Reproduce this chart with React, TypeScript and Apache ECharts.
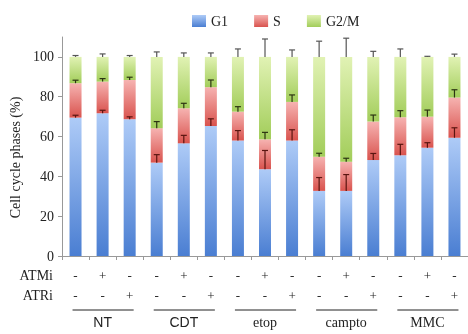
import React, { useEffect, useRef } from "react";
import * as echarts from "echarts";

const groups = ["NT", "CDT", "etop", "campto", "MMC"];
const atmi = ["-", "+", "-", "-", "+", "-", "-", "+", "-", "-", "+", "-", "-", "+", "-"];
const atri = ["-", "-", "+", "-", "-", "+", "-", "-", "+", "-", "-", "+", "-", "-", "+"];
const categories = groups.flatMap((g) => [g + " ctrl", g + " ATMi", g + " ATRi"]);

const g1 = [69.5, 71.7, 68.7, 46.9, 56.6, 65.3, 58.0, 43.6, 58.0, 32.7, 32.7, 48.2, 50.6, 54.4, 59.4];
const sPhase = [17.3, 15.9, 19.7, 17.3, 17.6, 19.5, 14.5, 15.0, 19.4, 17.2, 14.7, 19.3, 19.1, 15.6, 20.2];
const g2m = [13.2, 12.4, 11.6, 35.8, 25.8, 15.2, 27.5, 41.4, 22.6, 50.1, 52.6, 32.5, 30.3, 30.0, 20.4];

const g1Err = [1.2, 1.5, 1.2, 4.0, 4.0, 3.6, 5.0, 9.4, 5.4, 6.7, 8.2, 3.3, 5.5, 2.5, 5.0];
const sErr = [1.5, 1.5, 1.4, 3.3, 2.5, 3.6, 2.5, 3.5, 3.5, 1.7, 1.7, 3.3, 3.3, 3.3, 3.9];
const g2mErr = [0.7, 1.5, 0.7, 2.5, 2.0, 2.0, 4.0, 9.0, 3.5, 7.9, 9.4, 2.8, 4.0, 0.3, 1.4];

const yTicks = [0, 20, 40, 60, 80, 100];

const SERIF = "'Liberation Serif', 'DejaVu Serif', serif";
const SANS = "'Liberation Sans Narrow', 'Liberation Sans', 'DejaVu Sans', sans-serif";

const grad = (top: string, bottom: string) =>
  new echarts.graphic.LinearGradient(0, 0, 0, 1, [
    { offset: 0, color: top },
    { offset: 1, color: bottom },
  ]);

function errorSeries(name: string, bases: number[], errs: number[], color: string) {
  return {
    type: "custom",
    name,
    z: 5,
    data: bases.map((b, i) => [i, b, b + errs[i]]),
    renderItem: (params: any, api: any) => {
      const p0 = api.coord([api.value(0), api.value(1)]);
      const p1 = api.coord([api.value(0), api.value(2)]);
      const half = 3;
      return {
        type: "group",
        children: [
          {
            type: "line",
            shape: { x1: p0[0], y1: p0[1], x2: p1[0], y2: p1[1] },
            style: { stroke: color, lineWidth: 1.2 },
          },
          {
            type: "line",
            shape: { x1: p1[0] - half, y1: p1[1], x2: p1[0] + half, y2: p1[1] },
            style: { stroke: color, lineWidth: 1.2 },
          },
        ],
      };
    },
  };
}

export default function App() {
  const ref = useRef<HTMLDivElement>(null);
  useEffect(() => {
    if (!ref.current) return;
    const chart = echarts.init(ref.current, undefined, { renderer: "svg" });
    const sTop = g1.map((v, i) => v + sPhase[i]);
    const total = sTop.map((v, i) => v + g2m[i]);
    chart.setOption({
      animation: false,
      textStyle: { fontFamily: SERIF, color: "#222" },
      legend: {
        data: ["G1", "S", "G2/M"],
        left: 187,
        top: 9,
        icon: "rect",
        itemWidth: 14,
        itemHeight: 12,
        itemGap: 26,
        textStyle: { fontFamily: SERIF, fontSize: 14, color: "#222" },
      },
      grid: { left: 58, right: -9, top: 37, bottom: 78, containLabel: false },
      xAxis: [
        {
          type: "category",
          data: categories,
          axisLine: { lineStyle: { color: "#999" } },
          axisTick: { show: true, length: 4, lineStyle: { color: "#999" } },
          axisLabel: {
            interval: 0,
            margin: 9,
            fontFamily: SERIF,
            fontSize: 13,
            color: "#222",
            lineHeight: 20,
            formatter: (_v: string, i: number) => `${atmi[i]}\n${atri[i]}`,
          },
        },
        {
          type: "category",
          data: groups,
          position: "bottom",
          offset: 57,
          axisLine: { show: false },
          axisTick: { show: false },
          axisLabel: {
            interval: 0,
            margin: 2,
            fontSize: 14,
            color: "#222",
            formatter: (v: string) => (v === "NT" || v === "CDT" ? `{sans|${v}}` : `{serif|${v}}`),
            rich: {
              sans: { fontFamily: SANS, fontSize: 14, color: "#222" },
              serif: { fontFamily: SERIF, fontSize: 14, color: "#222" },
            },
          },
        },
      ],
      yAxis: {
        type: "value",
        min: 0,
        max: 110,
        interval: 20,
        name: "Cell cycle phases (%)",
        nameLocation: "middle",
        nameGap: 40,
        nameTextStyle: { fontFamily: SERIF, fontSize: 14, color: "#222", padding: [0, 22, 0, 0] },
        axisLine: { show: true, lineStyle: { color: "#999" } },
        axisTick: { show: true, length: 4, lineStyle: { color: "#999" }, customValues: yTicks },
        axisLabel: { fontFamily: SERIF, fontSize: 14, color: "#222", margin: 8, customValues: yTicks },
        splitLine: { show: false },
      },
      series: [
        {
          name: "G1",
          type: "bar",
          stack: "phase",
          barWidth: 12,
          data: g1,
          itemStyle: { color: grad("#aecbf7", "#4a7ed2") },
        },
        {
          name: "S",
          type: "bar",
          stack: "phase",
          barWidth: 12,
          data: sPhase,
          itemStyle: { color: grad("#f6b3b1", "#d9534e") },
        },
        {
          name: "G2/M",
          type: "bar",
          stack: "phase",
          barWidth: 12,
          data: g2m,
          itemStyle: { color: grad("#e1f2b4", "#a2cd5a") },
        },
        errorSeries("G1 err", g1, g1Err, "#5a1510"),
        errorSeries("S err", sTop, sErr, "#2c3412"),
        errorSeries("G2/M err", total, g2mErr, "#555"),
      ],
    });

    const y0 = chart.convertToPixel({ yAxisIndex: 0 }, 0) as number;
    const lineY = y0 + 54;
    const lines = groups.map((_g, gi) => {
      const xa = chart.convertToPixel({ xAxisIndex: 0 }, gi * 3) as number;
      const xb = chart.convertToPixel({ xAxisIndex: 0 }, gi * 3 + 2) as number;
      return {
        type: "line",
        shape: { x1: xa - 3, y1: lineY, x2: xb + 4, y2: lineY },
        style: { stroke: "#222", lineWidth: 1 },
      };
    });
    chart.setOption({
      graphic: [
        ...lines,
        {
          type: "text",
          x: 53,
          y: y0 + 19,
          style: { text: "ATMi", fontFamily: SERIF, fontSize: 14, fill: "#222", align: "right", verticalAlign: "middle" },
        },
        {
          type: "text",
          x: 53,
          y: y0 + 39,
          style: { text: "ATRi", fontFamily: SERIF, fontSize: 14, fill: "#222", align: "right", verticalAlign: "middle" },
        },
      ],
    });
    return () => chart.dispose();
  }, []);
  return <div ref={ref} style={{ position: "fixed", left: 0, top: 0, width: 468, height: 334 }} />;
}
